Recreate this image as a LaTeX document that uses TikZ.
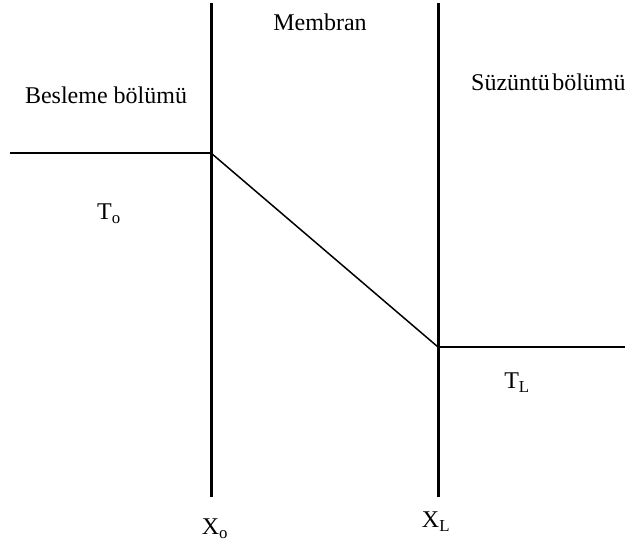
\documentclass[tikz,border=0pt]{standalone}
\usepackage{fontspec}
\setmainfont{Liberation Serif}
\begin{document}
\begin{tikzpicture}[x=1pt,y=-1pt,
  lbl/.style={inner sep=0pt,font=\fontsize{24}{28}\selectfont},
  wall/.style={line width=3pt},
  level/.style={line width=2pt},
  slope/.style={line width=1.5pt}]
\useasboundingbox (0,0) rectangle (625,546);
\coordinate (lt) at (211,3);
\coordinate (lb) at (211,497);
\coordinate (rt) at (438,3);
\coordinate (rb) at (438,497);
\coordinate (l0) at (10,153);
\coordinate (l1) at (211,153);
\coordinate (r1) at (438,347);
\coordinate (r0) at (625,347);
\draw[wall] (lt) -- (lb);
\draw[wall] (rt) -- (rb);
\draw[level] (l0) -- (l1);
\draw[level] (r1) -- (r0);
\draw[slope] (l1) -- (r1);
\node[lbl] (feed) at (106,95) {Besleme bölümü};
\node[lbl] (mem) at (320,22) {Membran};
\node[lbl,anchor=west] (perm) at (471,82) {Süzüntü\hspace{0.1em}bölümü};
\node[lbl] (to) at (109,214) {T\textsubscript{o}};
\node[lbl] (tl) at (517,383) {T\textsubscript{L}};
\node[lbl] (xo) at (215,529) {X\textsubscript{o}};
\node[lbl] (xl) at (436,522) {X\textsubscript{L}};
\end{tikzpicture}
\end{document}
